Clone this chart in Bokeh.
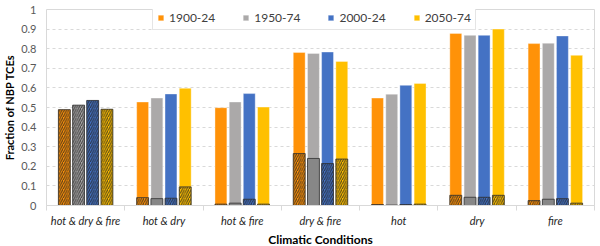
from bokeh.plotting import figure
from bokeh.models import ColumnDataSource, FixedTicker, Legend, LegendItem, NumeralTickFormatter, Title
from bokeh.embed import file_html
from bokeh.resources import INLINE

categories = ["hot & dry & fire", "hot & dry", "hot & fire", "dry & fire", "hot", "dry", "fire"]
periods = ["1900-24", "1950-74", "2000-24", "2050-74"]

total_1900 = [0.489, 0.528, 0.499, 0.781, 0.548, 0.878, 0.826]
total_1950 = [0.512, 0.548, 0.528, 0.776, 0.568, 0.868, 0.828]
total_2000 = [0.536, 0.569, 0.571, 0.783, 0.613, 0.868, 0.865]
total_2050 = [0.491, 0.598, 0.502, 0.735, 0.623, 0.900, 0.766]

hatched_1900 = [0.489, 0.040, 0.007, 0.265, 0.005, 0.052, 0.025]
hatched_1950 = [0.512, 0.035, 0.012, 0.240, 0.002, 0.042, 0.032]
hatched_2000 = [0.536, 0.037, 0.032, 0.214, 0.005, 0.042, 0.035]
hatched_2050 = [0.491, 0.095, 0.007, 0.237, 0.007, 0.052, 0.012]

y_ticks = [0, 0.1, 0.2, 0.3, 0.4, 0.5, 0.6, 0.7, 0.8, 0.9, 1.0]

totals = [total_1900, total_1950, total_2000, total_2050]
hatched = [hatched_1900, hatched_1950, hatched_2000, hatched_2050]
colors = ["#FF9208", "#ABA9A9", "#4472C4", "#FFC000"]
hatch_fill = ["#FF9208", "#878787", "#4472C4", "#FFC000"]
offsets = [-0.272, -0.09, 0.09, 0.272]
bar_w = 0.152

FONT = "Lato"

p = figure(width=600, height=246, x_range=(-0.5, 6.5), y_range=(0, 1),
           output_backend="svg", toolbar_location=None,
           min_border_left=40, min_border_right=6, min_border_top=9, min_border_bottom=0)

legend_items = []
for k in range(4):
    xs = [i + offsets[k] for i in range(len(categories))]
    full = p.vbar(x=xs, top=totals[k], width=bar_w, bottom=0,
                  fill_color=colors[k], line_color="white", line_width=0.6, line_alpha=0.6)
    fills = []
    patterns = []
    for i in range(len(categories)):
        whole = hatched[k][i] >= totals[k][i]
        if k == 1 and not whole:
            fills.append(hatch_fill[k])
            patterns.append(" ")
        else:
            fills.append(colors[k])
            patterns.append("/")
    src = ColumnDataSource(dict(x=xs, top=hatched[k], fill=fills, pat=patterns))
    p.vbar(x="x", top="top", width=bar_w, bottom=0, source=src,
           fill_color="fill", hatch_pattern="pat", hatch_color="#202020",
           hatch_scale=4.5, hatch_weight=1.1, hatch_alpha=0.75,
           line_color="#303030", line_width=1, line_alpha=0.8)
    legend_items.append(LegendItem(label=periods[k], renderers=[full]))

legend = Legend(items=legend_items, orientation="horizontal", location=(106, 175),
                label_text_font=FONT, label_text_font_size="12px", label_text_color="#404040",
                glyph_width=7, glyph_height=7, label_standoff=5, spacing=27,
                padding=4, margin=0, border_line_color="#CCCCCC", border_line_width=1,
                background_fill_color="white", background_fill_alpha=1.0,
                label_height=12)
p.add_layout(legend, "center")

p.outline_line_color = "#D9D9D9"
p.outline_line_width = 1

p.xgrid.grid_line_color = None
p.ygrid.ticker = FixedTicker(ticks=y_ticks)
p.ygrid.grid_line_color = "#D9D9D9"
p.ygrid.grid_line_dash = "3 3"

p.yaxis.ticker = FixedTicker(ticks=y_ticks)
p.yaxis.formatter = NumeralTickFormatter(format="0.[0]")
p.yaxis.axis_line_color = None
p.yaxis.major_tick_line_color = None
p.yaxis.minor_tick_line_color = None
p.yaxis.major_label_text_font = FONT
p.yaxis.major_label_text_font_size = "11px"
p.yaxis.major_label_text_color = "#595959"
p.yaxis.major_label_standoff = 4
p.yaxis.axis_label = "Fraction of NBP TCEs"
p.yaxis.axis_label_text_font = FONT
p.yaxis.axis_label_text_font_size = "11px"
p.yaxis.axis_label_text_font_style = "bold"
p.yaxis.axis_label_text_color = "#000000"
p.yaxis.axis_label_standoff = 2

p.xaxis.ticker = FixedTicker(ticks=list(range(len(categories))),
                             minor_ticks=[i - 0.5 for i in range(len(categories) + 1)])
p.xaxis.major_label_overrides = {i: c for i, c in enumerate(categories)}
p.xaxis.axis_line_color = "#D9D9D9"
p.xaxis.major_tick_line_color = None
p.xaxis.major_tick_out = 0
p.xaxis.minor_tick_line_color = "#D9D9D9"
p.xaxis.minor_tick_out = 5
p.xaxis.minor_tick_in = 0
p.xaxis.major_label_text_font = FONT
p.xaxis.major_label_text_font_size = "11px"
p.xaxis.major_label_text_font_style = "italic"
p.xaxis.major_label_text_color = "#262626"
p.xaxis.major_label_standoff = 3

x_title = Title(text="Climatic Conditions", align="center", text_font=FONT,
                text_font_size="12px", text_font_style="bold", text_color="#000000",
                standoff=0, offset=0)
p.add_layout(x_title, "below")

p.background_fill_color = "white"
p.border_fill_color = "white"

open("out.html", "w").write(file_html(p, INLINE))
